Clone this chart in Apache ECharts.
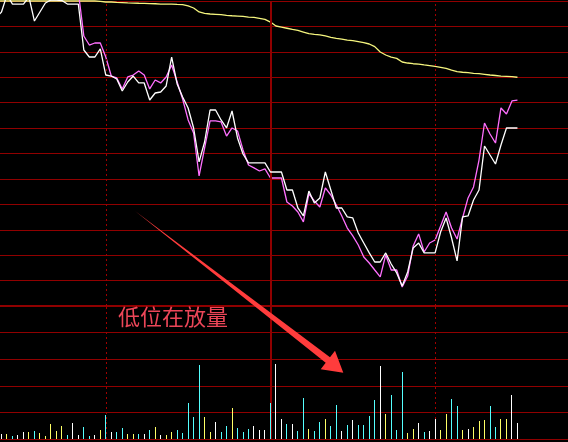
<!DOCTYPE html>
<html>
<head>
<meta charset="utf-8">
<script src="https://cdn.jsdelivr.net/npm/echarts@6/dist/echarts.min.js"></script>
<style>
html,body{margin:0;padding:0;background:#000;}
#chart{width:568px;height:442px;}
</style>
</head>
<body>
<div id="chart"></div>
<script>
// ---- data (time index = bar slot in the session) ----
const PRICE_START = 10;   // first time slot of the price arrays
const VOL_START = 11;     // first time slot of the volume arrays

const whitePrice = [
  22.833, 22.892, 23.059, 22.970, 22.970, 22.970, 23.039, 22.803, 22.892, 22.980,
  23.010, 23.010, 23.005, 22.970, 22.970, 22.970, 22.518, 22.449, 22.449, 22.528,
  22.272, 22.262, 22.233, 22.115, 22.203, 22.262, 22.194, 22.194, 22.026, 22.095,
  22.105, 22.164, 22.449, 22.184, 22.056, 21.948, 21.751, 21.417, 21.613, 21.928,
  21.928, 21.830, 21.751, 21.918, 21.653, 21.495, 21.407, 21.407, 21.407, 21.407,
  21.318, 21.318, 21.318, 21.141, 21.141, 20.964, 20.886, 21.131, 21.013, 21.063,
  21.318, 21.141, 20.964, 20.964, 20.876, 20.866, 20.718, 20.620, 20.522, 20.433,
  20.433, 20.522, 20.413, 20.325, 20.197, 20.335, 20.571, 20.620, 20.522, 20.522,
  20.522, 20.728, 20.866, 20.669, 20.443, 20.876, 20.886, 21.043, 21.141, 21.574,
  21.485, 21.397, 21.584, 21.751, 21.751, 21.751
];

const pinkPrice = [
  null, null, null, null, null, null, null, null, null, null,
  null, null, null, null, null, 23.089, 22.656, 22.567, 22.587, 22.587,
  22.449, 22.262, 22.243, 22.135, 22.253, 22.272, 22.312, 22.272, 22.135, 22.223,
  22.194, 22.253, 22.371, 22.203, 22.036, 21.830, 21.702, 21.279, 21.554, 21.820,
  21.820, 21.810, 21.672, 21.751, 21.721, 21.535, 21.387, 21.358, 21.328, 21.348,
  21.259, 21.259, 21.259, 21.023, 20.984, 20.925, 20.827, 21.102, 21.033, 20.974,
  21.161, 21.092, 20.994, 20.886, 20.767, 20.689, 20.600, 20.482, 20.423, 20.354,
  20.286, 20.502, 20.354, 20.354, 20.187, 20.295, 20.590, 20.709, 20.531, 20.620,
  20.649, 20.787, 20.925, 20.767, 20.659, 20.866, 21.063, 21.171, 21.436, 21.800,
  21.692, 21.603, 21.948, 21.889, 22.017, 22.026
];

const yellowPrice = [
  23.000, 23.000, 23.000, 23.000, 23.000, 23.000, 23.000, 23.000, 23.000, 23.000,
  23.000, 23.000, 23.000, 23.000, 23.000, 23.000, 23.000, 23.000, 23.000, 22.997,
  22.990, 22.990, 22.987, 22.985, 22.982, 22.980, 22.978, 22.977, 22.975, 22.973,
  22.970, 22.970, 22.969, 22.966, 22.964, 22.951, 22.931, 22.892, 22.879, 22.872,
  22.869, 22.865, 22.859, 22.855, 22.852, 22.848, 22.841, 22.838, 22.830, 22.820,
  22.793, 22.754, 22.744, 22.732, 22.720, 22.710, 22.695, 22.680, 22.672, 22.666,
  22.656, 22.643, 22.633, 22.626, 22.616, 22.610, 22.600, 22.590, 22.577, 22.551,
  22.498, 22.469, 22.449, 22.436, 22.400, 22.390, 22.383, 22.380, 22.371, 22.364,
  22.356, 22.348, 22.338, 22.321, 22.305, 22.299, 22.295, 22.289, 22.285, 22.279,
  22.272, 22.267, 22.262, 22.259, 22.256, 22.250
];

const volume = [
  19, 19, 12, 15, 26, 26, 30, 23, 11, 56,
  30, 49, 15, 60, 15, 45, 11, 15, 34, 90,
  26, 26, 41, 19, 19, 19, 19, 34, 45, 15,
  15, 26, 34, 23, 135, 83, 278, 83, 26, 64,
  26, 49, 117, 41, 26, 38, 49, 34, 34, 135,
  282, 75, 56, 56, 30, 154, 38, 30, 64, 75,
  49, 128, 30, 53, 71, 53, 53, 86, 147, 274,
  94, 165, 34, 252, 23, 38, 60, 26, 30, 75,
  34, 94, 150, 124, 34, 38, 45, 68, 71, 124,
  45, 75, 75, 165, 60
];

// trade kind of each volume bar: W / Y / C
const volKind = [
  'W','Y','C','W','W','Y','C','Y','Y','Y',
  'Y','Y','C','W','W','C','C','W','Y','C',
  'W','C','C','Y','Y','C','W','C','Y','W',
  'Y','Y','C','C','C','C','C','Y','Y','W',
  'C','C','Y','C','C','C','W','W','W','C',
  'W','W','C','W','C','C','Y','C','C','Y',
  'C','C','W','C','W','C','C','C','C','W',
  'Y','C','C','C','Y','Y','W','C','W','W',
  'Y','Y','C','C','Y','W','Y','Y','Y','C',
  'C','Y','Y','W','W'
];

const hourMarks = [30, 60, 90];
const annotationText = '低位在放量';

// ---- styles ----
const GRID_RED = '#900000';
const kindColor = { W: '#FFFFFF', Y: '#FFFF66', C: '#55FFFF' };

const toPairs = (arr, start) => arr.map((v, k) => [start + k, v]);
const volData = volume.map((v, k) => [VOL_START + k, v, volKind[k]]);

const X_MIN = 10.727, X_MAX = 114.21;

const chart = echarts.init(document.getElementById('chart'), null, { renderer: 'canvas' });

const vMarkLines = () => ({
  silent: true,
  symbol: 'none',
  label: { show: false },
  animation: false,
  data: hourMarks.map(h => ({
    xAxis: h,
    lineStyle: h === 60
      ? { color: GRID_RED, width: 2, type: 'solid' }
      : { color: '#A00000', width: 1, type: [2, 3] }
  }))
});

chart.setOption({
  backgroundColor: '#000000',
  animation: false,
  grid: [
    { left: 0, right: 0, top: 1, height: 305 },
    { left: 0, right: 0, top: 306, height: 133 }
  ],
  xAxis: [
    {
      type: 'value', gridIndex: 0, min: X_MIN, max: X_MAX,
      axisLine: { show: true, onZero: false, lineStyle: { color: GRID_RED, width: 2 } },
      axisTick: { show: false }, axisLabel: { show: false }, splitLine: { show: false }
    },
    {
      type: 'value', gridIndex: 1, min: X_MIN, max: X_MAX,
      axisLine: { show: false }, axisTick: { show: false },
      axisLabel: { show: false }, splitLine: { show: false }
    }
  ],
  yAxis: [
    {
      type: 'value', gridIndex: 0, min: 20, max: 23, interval: 0.25,
      axisLine: { show: false }, axisTick: { show: false }, axisLabel: { show: false },
      splitLine: { show: true, lineStyle: { color: GRID_RED, width: 1 } }
    },
    {
      type: 'value', gridIndex: 1, min: 0, max: 500, interval: 100,
      axisLine: { show: false }, axisTick: { show: false }, axisLabel: { show: false },
      splitLine: { show: true, lineStyle: { color: GRID_RED, width: 1 } }
    }
  ],
  series: [
    {
      type: 'line', xAxisIndex: 0, yAxisIndex: 0,
      data: toPairs(yellowPrice, PRICE_START),
      showSymbol: false, symbol: 'none', clip: false,
      lineStyle: { color: '#F5F57E', width: 1.3 },
      markLine: vMarkLines(),
      z: 3
    },
    {
      type: 'line', xAxisIndex: 0, yAxisIndex: 0,
      data: toPairs(pinkPrice, PRICE_START),
      showSymbol: false, symbol: 'none', clip: false, connectNulls: false,
      lineStyle: { color: '#FF70FF', width: 1.3 },
      z: 4
    },
    {
      type: 'line', xAxisIndex: 0, yAxisIndex: 0,
      data: toPairs(whitePrice, PRICE_START),
      showSymbol: false, symbol: 'none', clip: false,
      lineStyle: { color: '#FFFFFF', width: 1.3 },
      z: 5
    },
    {
      type: 'custom', xAxisIndex: 1, yAxisIndex: 1,
      data: volData,
      markLine: vMarkLines(),
      renderItem: function (params, api) {
        const top = api.coord([api.value(0), api.value(1)]);
        const base = api.coord([api.value(0), 0]);
        const x = Math.floor(top[0]);
        const y0 = Math.round(top[1]);
        const y1 = Math.round(base[1]);
        return {
          type: 'rect',
          shape: { x: x, y: y0, width: 1, height: y1 - y0 },
          style: { fill: kindColor[volKind[params.dataIndex]] }
        };
      },
      z: 5
    }
  ],
  graphic: [
    {
      type: 'polygon',
      z: 100,
      shape: {
        points: [
          [135, 211], [330, 357.2], [335, 350.7], [343.3, 372.7], [320.7, 369.3], [325.7, 362.8]
        ]
      },
      style: { fill: '#FF3C3C' }
    },
    {
      type: 'text',
      z: 100,
      left: 118, top: 306,
      style: {
        text: annotationText,
        fill: '#EC4658',
        font: '22px "Noto Sans CJK SC", sans-serif'
      }
    }
  ]
});
</script>
</body>
</html>
